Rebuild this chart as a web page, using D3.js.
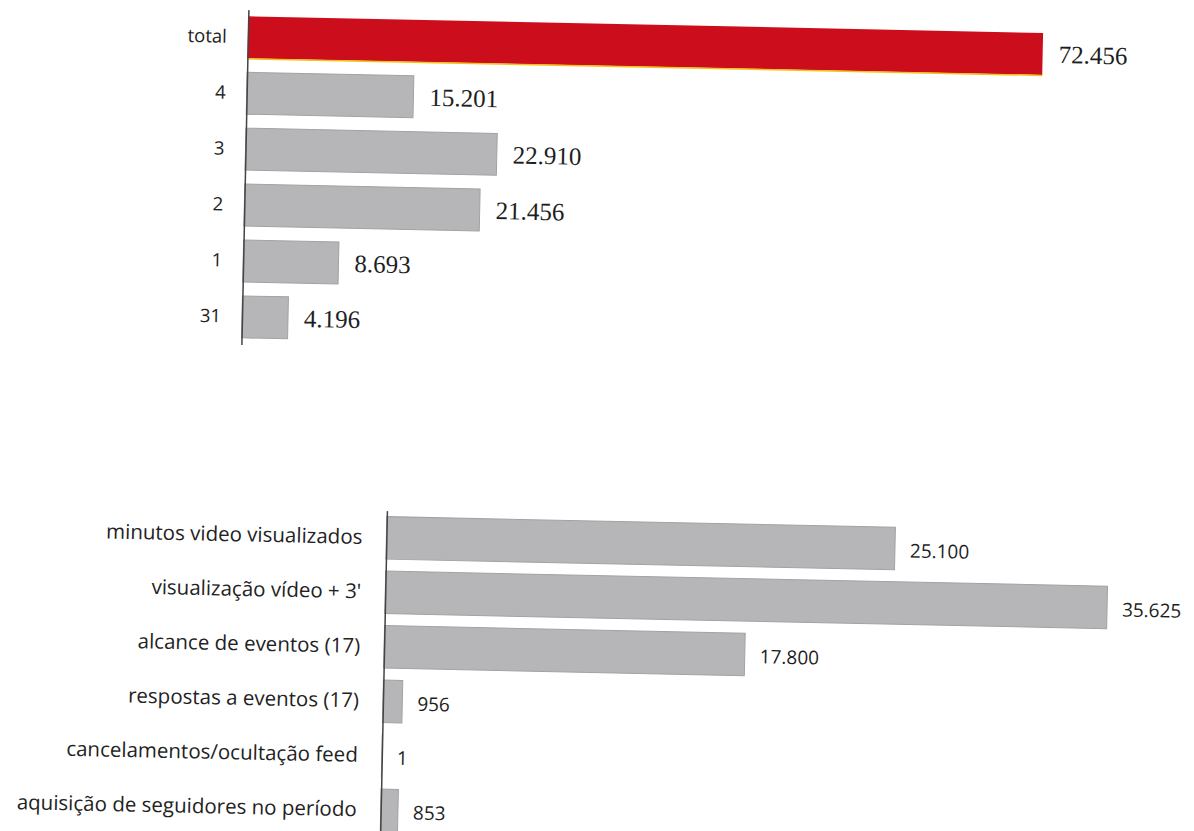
<!DOCTYPE html>
<html>
<head>
<meta charset="utf-8">
<script src="https://cdn.jsdelivr.net/npm/d3@7"></script>
<style>
  body { margin: 0; background: #fff; }
  .cat text { font-family: "Open Sans", sans-serif; fill: #222; }
  .axis path { stroke: #444; stroke-width: 1.5px; }
</style>
</head>
<body>
<div id="chart"></div>
<script>
// top chart: totals per week
var topCats = ["total", "4", "3", "2", "1", "31"];
var topVals = [72456, 15201, 22910, 21456, 8693, 4196];

// bottom chart: video / event metrics
var botCats = ["minutos video visualizados", "visualização vídeo + 3'", "alcance de eventos (17)",
               "respostas a eventos (17)", "cancelamentos/ocultação feed", "aquisição de seguidores no período"];
var botVals = [25100, 35625, 17800, 956, 1, 853];

var fmt = d3.format(",d");
function ptNum(v) { return fmt(v).replace(/,/g, "."); }

var W = 1194, H = 831;
var svg = d3.select("#chart").append("svg")
    .attr("width", W)
    .attr("height", H);

svg.append("rect").attr("width", W).attr("height", H).attr("fill", "#fff");

// the scan is a little rotated
var g = svg.append("g").attr("transform", "rotate(1.2, 597, 415)");

// ---- top chart
var x1 = d3.scaleLinear().domain([0, 72456]).range([240, 1035]);
var y1 = d3.scaleBand().domain(topCats).range([17, 352])
    .paddingInner(0.25).paddingOuter(0.12);

var topChart = g.append("g");

topChart.selectAll(".bar")
    .data(topVals)
  .enter().append("rect")
    .attr("class", "bar")
    .attr("x", x1(0))
    .attr("y", function(d, i) { return y1(topCats[i]); })
    .attr("width", function(d) { return x1(d) - x1(0); })
    .attr("height", y1.bandwidth())
    .attr("fill", function(d, i) { return i == 0 ? "#cc0e1c" : "#b6b6b9"; })
    .attr("stroke", function(d, i) { return i == 0 ? "none" : "#a2a2a5"; })
    .attr("stroke-width", 1);

// thin yellow edge under the red bar
topChart.append("line")
    .attr("x1", x1(0)).attr("x2", x1(topVals[0]))
    .attr("y1", y1("total") + y1.bandwidth() + 0.5)
    .attr("y2", y1("total") + y1.bandwidth() + 0.5)
    .attr("stroke", "#f2c21a").attr("stroke-width", 1.5);

topChart.selectAll(".val")
    .data(topVals)
  .enter().append("text")
    .attr("class", "val")
    .attr("x", function(d) { return x1(d) + 16; })
    .attr("y", function(d, i) { return y1(topCats[i]) + y1.bandwidth() / 2; })
    .attr("dy", "0.35em")
    .style("font-family", "'Liberation Serif', serif")
    .style("font-size", "25px")
    .style("fill", "#1e1e1e")
    .text(ptNum);

topChart.append("g")
    .attr("class", "axis cat")
    .attr("transform", "translate(" + x1(0) + ",0)")
    .call(d3.axisLeft(y1).tickSize(0).tickPadding(21))
    .selectAll("text")
    .style("font-size", "18.5px");

// ---- bottom chart
var x2 = d3.scaleLinear().domain([0, 35625]).range([389, 1111]);
var y2 = d3.scaleBand().domain(botCats).range([515, 842])
    .paddingInner(0.22).paddingOuter(0.11);

var botChart = g.append("g");

botChart.selectAll(".bar")
    .data(botVals)
  .enter().append("rect")
    .attr("class", "bar")
    .attr("x", x2(0))
    .attr("y", function(d, i) { return y2(botCats[i]); })
    .attr("width", function(d) { return x2(d) - x2(0); })
    .attr("height", y2.bandwidth())
    .attr("fill", "#b6b6b9")
    .attr("stroke", "#a2a2a5")
    .attr("stroke-width", 1);

botChart.selectAll(".val")
    .data(botVals)
  .enter().append("text")
    .attr("class", "val")
    .attr("x", function(d) { return x2(d) + 15; })
    .attr("y", function(d, i) { return y2(botCats[i]) + y2.bandwidth() / 2 + 2; })
    .attr("dy", "0.35em")
    .style("font-family", "'Open Sans', sans-serif")
    .style("font-size", "19px")
    .style("fill", "#1e1e1e")
    .text(ptNum);

botChart.append("g")
    .attr("class", "axis cat")
    .attr("transform", "translate(" + x2(0) + ",0)")
    .call(d3.axisLeft(y2).tickSize(0).tickPadding(24))
    .selectAll("text")
    .style("font-size", "20.5px");
</script>
</body>
</html>
